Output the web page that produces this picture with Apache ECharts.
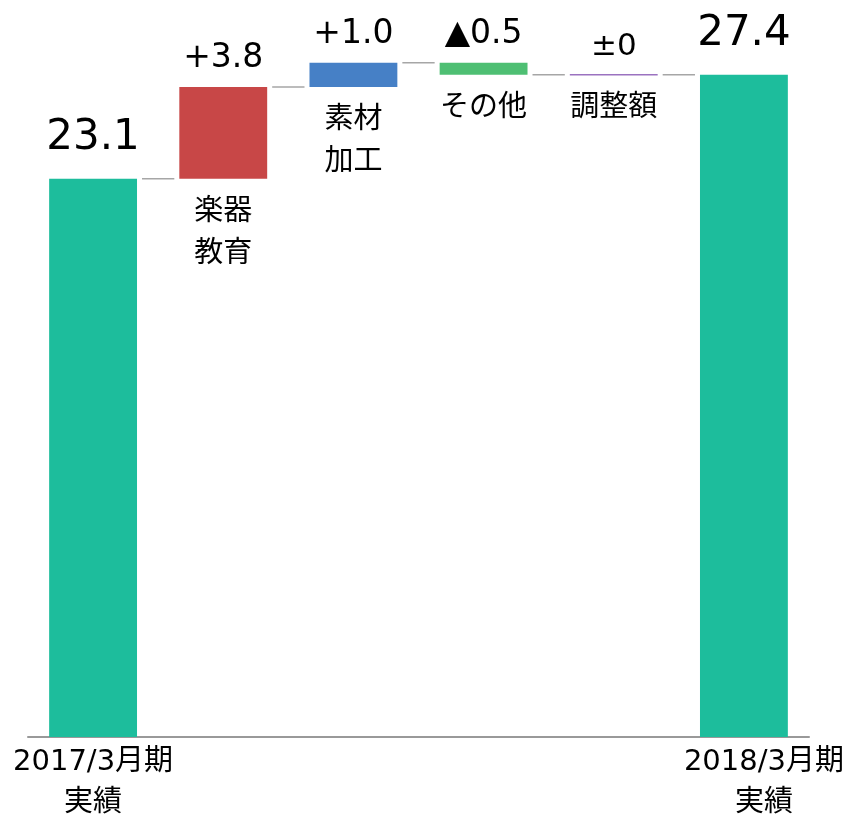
<!DOCTYPE html>
<html>
<head>
<meta charset="utf-8">
<script src="https://cdn.jsdelivr.net/npm/echarts@6/dist/echarts.min.js"></script>
<style>
  html, body { margin: 0; padding: 0; background: #fff; }
  #main { width: 852px; height: 816px; }
</style>
</head>
<body>
<div id="main"></div>
<script>
// データ（億円）
var categories = ['2017/3月期\n実績', '楽器\n教育', '素材\n加工', 'その他', '調整額', '2018/3月期\n実績'];
var amounts = [23.1, 3.8, 1.0, -0.5, 0, 27.4];
var valueLabels = ['23.1', '+3.8', '+1.0', '▲0.5', '±0', '27.4'];
var isTotal = [true, false, false, false, false, true];

var colors = ['#1dbd9c', '#c84747', '#4680c6', '#4ebf73', '#9b72c0', '#1dbd9c'];
var FONT = "'DejaVu Sans', 'Noto Sans CJK JP', sans-serif";

// 積み上げ位置を計算
var barData = [];
var stepData = [];
var level = 0;
for (var i = 0; i < amounts.length; i++) {
    var lo, hi;
    if (isTotal[i]) {
        lo = 0; hi = amounts[i];
        level = amounts[i];
    } else {
        lo = Math.min(level, level + amounts[i]);
        hi = Math.max(level, level + amounts[i]);
        level = level + amounts[i];
    }
    barData.push([i, lo, hi]);
    if (i < amounts.length - 1) stepData.push([i, level]);
}

function renderBar(params, api) {
    var i = api.value(0);
    var pTop = api.coord([i, api.value(2)]);
    var pBot = api.coord([i, api.value(1)]);
    var w = api.size([1, 0])[0] * 0.675;
    var x = pTop[0] - w / 2;
    var children = [];
    if (pBot[1] - pTop[1] < 1) {
        children.push({
            type: 'line',
            shape: { x1: x, y1: pTop[1], x2: x + w, y2: pTop[1] },
            style: { stroke: colors[i], lineWidth: 1.5 }
        });
    } else {
        children.push({
            type: 'rect',
            shape: { x: x, y: pTop[1], width: w, height: pBot[1] - pTop[1] },
            style: { fill: colors[i] }
        });
    }
    var big = isTotal[i];
    children.push({
        type: 'text',
        style: {
            x: pTop[0], y: pTop[1] - (big ? 41 : 28),
            text: valueLabels[i],
            fill: '#000',
            font: (big ? 42 : (amounts[i] === 0 ? 31 : 33)) + 'px ' + FONT,
            align: 'center', verticalAlign: 'middle'
        }
    });
    if (!big) {
        children.push({
            type: 'text',
            style: {
                x: pTop[0], y: pBot[1] + 13,
                text: categories[i],
                fill: '#000',
                font: '29px ' + FONT,
                lineHeight: 42,
                align: 'center', verticalAlign: 'top'
            }
        });
    }
    return { type: 'group', children: children };
}

function renderStep(params, api) {
    var i = api.value(0);
    var p1 = api.coord([i, api.value(1)]);
    var p2 = api.coord([i + 1, api.value(1)]);
    var w = api.size([1, 0])[0] * 0.675;
    return {
        type: 'line',
        shape: { x1: p1[0] + w / 2 + 5, y1: p1[1], x2: p2[0] - w / 2 - 5, y2: p1[1] },
        style: { stroke: '#a6a6a6', lineWidth: 1.5 }
    };
}

var myChart = echarts.init(document.getElementById('main'));
var option = {
    animation: false,
    grid: { left: 28, right: 43, top: 12, bottom: 79, outerBoundsMode: 'none' },
    xAxis: {
        type: 'category',
        data: categories.map(function (c, i) {
            // 右端ラベルは少し右寄せ
            return i === categories.length - 1 ? { value: c, textStyle: { padding: [0, 0, 0, 40] } } : c;
        }),
        axisLine: { lineStyle: { color: '#999', width: 2 } },
        axisTick: { show: false },
        axisLabel: {
            interval: 0,
            formatter: function (v, i) { return isTotal[i] ? v : ''; },
            color: '#000',
            fontSize: 29,
            fontFamily: FONT,
            lineHeight: 41,
            margin: 5
        }
    },
    yAxis: { type: 'value', min: 0, max: 30, show: false },
    series: [
        {
            type: 'custom',
            renderItem: renderStep,
            data: stepData,
            encode: { x: 0, y: 1 },
            silent: true
        },
        {
            type: 'custom',
            renderItem: renderBar,
            data: barData,
            encode: { x: 0, y: [1, 2] },
            silent: true
        }
    ]
};
myChart.setOption(option);
</script>
</body>
</html>
